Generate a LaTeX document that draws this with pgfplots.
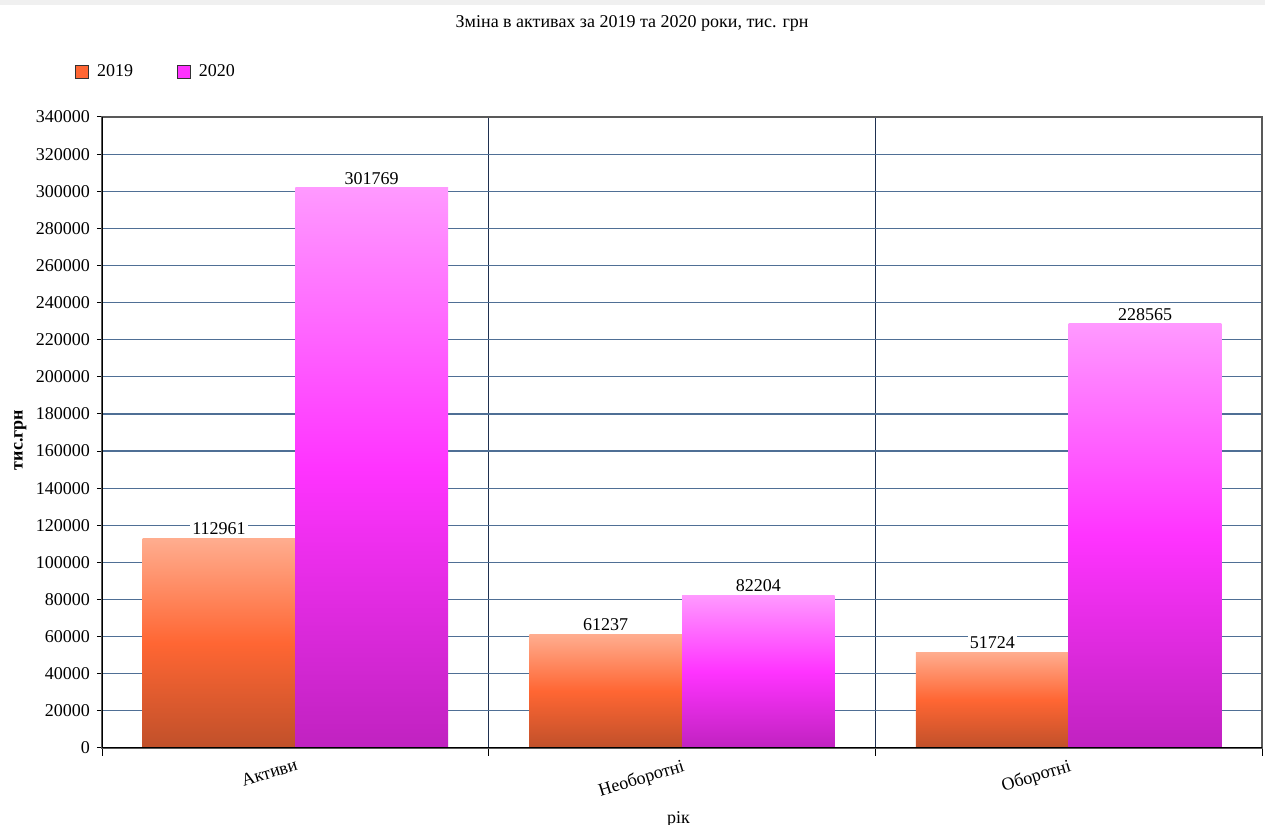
\documentclass[border=0pt]{standalone}
\usepackage{pgfplots}
\pgfplotsset{compat=1.18}
\usepackage{fontspec}
\setmainfont{Liberation Serif}
\definecolor{oT}{HTML}{FFAD8F}
\definecolor{oM}{HTML}{FF6633}
\definecolor{oB}{HTML}{C0502A}
\definecolor{pT}{HTML}{FF99FF}
\definecolor{pM}{HTML}{FF33FF}
\definecolor{pB}{HTML}{C022C0}
\definecolor{hgrid}{HTML}{4F6F95}
\definecolor{vgrid}{HTML}{1F3050}
\pgfplotsset{sqlegend/.style={legend image code/.code={\draw[##1] (0pt,-3.2pt) rectangle (6.4pt,3.2pt);}},
  b19/.style={draw=none, top color=oT, bottom color=oB, middle color=oM, bar shift=-0.1975},
  b20/.style={draw=none, top color=pT, bottom color=pB, middle color=pM, bar shift=0.1975}}
\begin{document}
\begin{tikzpicture}
\useasboundingbox (0,0) rectangle (632.5pt,412.5pt);
\fill[black!6] (0,410pt) rectangle (632.5pt,412.5pt);
\begin{axis}[
  at={(51pt,38.5pt)}, anchor=south west,
  scale only axis, width=580pt, height=315.5pt,
  xmin=-0.5, xmax=2.5, ymin=0, ymax=340000,
  ybar=0pt, bar width=0.395,
  ytick={0,20000,...,340000},
  scaled y ticks=false,
  /pgf/number format/fixed,
  /pgf/number format/precision=0,
  /pgf/number format/1000 sep={},
  /pgf/number format/assume math mode=true,
  font=\fontsize{9}{11}\selectfont,
  tick label style={font=\fontsize{9}{11}\selectfont},
  xtick={0,1,2},
  xticklabels={Активи,Необоротні,Оборотні},
  x tick label style={rotate=17, anchor=north east, yshift=1pt, xshift=2.5pt},
  major x tick style={draw=none},
  minor xtick={-0.5,0.5,1.5,2.5},
  xminorgrids=true,
  minor x grid style={vgrid, line width=0.6pt},
  minor tick length=4pt,
  major tick length=2.5pt,
  tick align=outside,
  tick pos=left,
  ymajorgrids=true,
  major y grid style={hgrid, line width=0.6pt},
  tick style={black, line width=0.5pt},
  axis line style={draw=black!65, line width=0.6pt},
  every axis title shift=0pt,
  title={Зміна в активах за 2019 та 2020 роки, тис. грн},
  title style={at={(0.457,1.149)}, anchor=center, font=\fontsize{9}{11}\selectfont},
  ylabel={\textbf{тис.грн}},
  ylabel style={at={(-0.0705,0.488)}, anchor=center, rotate=0, font=\fontsize{9}{11}\selectfont},
  xlabel={рік},
  xlabel style={at={(0.497,-0.114)}, anchor=center, font=\fontsize{9}{11}\selectfont},
  legend style={at={(-0.0233,1.0715)}, anchor=west, draw=none, fill=none,
    legend columns=2, inner sep=0pt,
    font=\fontsize{9}{11}\selectfont,
    nodes={inner sep=2pt},
    /tikz/every odd column/.append style={column sep=2pt},
    /tikz/every even column/.append style={column sep=20pt}},
  nodes near coords={\pgfmathprintnumber[fixed,precision=0,1000 sep={}]{\pgfplotspointmeta}},
  every node near coord/.append style={fill=white, inner sep=1pt, font=\fontsize{9}{11}\selectfont, anchor=south, yshift=0.5pt},
]
\addlegendimage{sqlegend, fill=oM, draw=black!80, line width=0.5pt}
\addlegendentry{2019}
\addlegendimage{sqlegend, fill=pM, draw=black!80, line width=0.5pt}
\addlegendentry{2020}
\addplot[b19, forget plot] coordinates {(0,112961)};
\addplot[b19, forget plot] coordinates {(1,61237)};
\addplot[b19, forget plot] coordinates {(2,51724)};
\addplot[b20, forget plot] coordinates {(0,301769)};
\addplot[b20, forget plot] coordinates {(1,82204)};
\addplot[b20, forget plot] coordinates {(2,228565)};
\draw[black, line width=1.2pt] (rel axis cs:0,1) -- (rel axis cs:0,0) -- (rel axis cs:1,0);
\end{axis}
\end{tikzpicture}
\end{document}
